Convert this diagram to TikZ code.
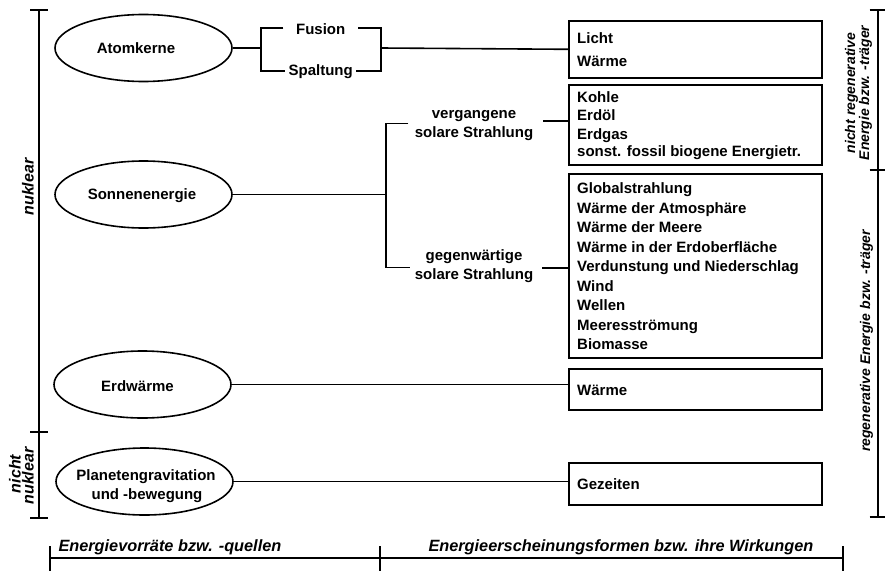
\documentclass[tikz,border=0pt]{standalone}
\usepackage{fontspec}
\setmainfont{Liberation Sans}
\usetikzlibrary{shapes.geometric}
\begin{document}
\begin{tikzpicture}[x=1pt,y=-1pt,
  ln/.style={line width=1.6pt},
  src/.style={draw, ellipse, line width=1.6pt, minimum width=177pt, minimum height=67pt, inner sep=0pt},
  item/.style={draw, line width=1.6pt, anchor=north west, minimum width=253pt, inner sep=0pt},
  txt/.style={inner sep=0pt, font=\bfseries\fontsize{15}{19}\selectfont},
  srclabel/.style={txt, anchor=base},
  entry/.style={txt, anchor=base west},
  axis/.style={inner sep=0pt, anchor=base, font=\bfseries\itshape\fontsize{16}{16}\selectfont},
  side/.style={axis, rotate=90},
  sidesmall/.style={side, font=\bfseries\itshape\fontsize{14}{14}\selectfont},
]
\useasboundingbox (0,0) rectangle (885,570);

% energy sources
\node[src] (atom) at (143.5,48) {};
\node[srclabel] (atomt) at (136,53.3) {Atomkerne};
\node[src] (sonne) at (143.5,194.5) {};
\node[srclabel] (sonnet) at (142,199.5) {Sonnenenergie};
\node[src] (erdw) at (142.5,384.5) {};
\node[srclabel] (erdwt) at (137.5,391.2) {Erdwärme};
\node[src] (planet) at (144.5,481.5) {};
\node[srclabel] (plan1) at (146,480.7) {Planetengravitation};
\node[srclabel] (plan2) at (147,499.3) {und -bewegung};

% energy forms
\node[item, minimum height=57pt] (licht) at (568,20) {};
\node[entry] (l1) at (577,43.3) {Licht};
\node[entry] (l2) at (577,66) {Wärme};

\node[item, minimum height=80pt] (kohle) at (568,84) {};
\node[entry] (k1) at (577,102.3) {Kohle};
\node[entry] (k2) at (577,120.7) {Erdöl};
\node[entry] (k3) at (577,139) {Erdgas};
\node[entry] (k4) at (577,156) {sonst. fossil biogene Energietr.};

\node[item, minimum height=184pt] (global) at (568,173) {};
\foreach \t [count=\i] in {Globalstrahlung, Wärme der Atmosphäre, Wärme der Meere,
  Wärme in der Erdoberfläche, Verdunstung und Niederschlag, Wind, Wellen,
  Meeresströmung, Biomasse}
  \node[entry] (g\i) at (577,{174+19.5*\i}) {\t};

\node[item, minimum height=41pt] (wbox) at (568,368) {};
\node[entry] (w1) at (577,395) {Wärme};

\node[item, minimum height=42pt] (gez) at (568,462) {};
\node[entry] (z1) at (577,489.3) {Gezeiten};

% nuclear branch
\node[srclabel] (fusion) at (320.7,34) {Fusion};
\node[srclabel] (spalt) at (320.7,75.5) {Spaltung};
\coordinate (bl) at (261,48);
\coordinate (br) at (381,48);
\draw[ln] (atom.east) -- (bl);
\draw[ln] (283.3,27.7) -- (261,27.7) -- (261,71) -- (285,71);
\draw[ln] (358.3,27.7) -- (381,27.7) -- (381,71) -- (356,71);
\draw[ln] (br) -- (licht.west);

% solar branch (base anchor = baseline of the last line)
\coordinate (sj) at (385.7,194.5);
\draw[ln] (sonne.east) -- (sj);
\draw[ln] (408.3,123.3) -- (385.7,123.3) -- (385.7,267.3) -- (410,267.3);
\node[txt, align=center, anchor=base] (verg) at (474,137) {vergangene\\solare Strahlung};
\node[txt, align=center, anchor=base] (gegen) at (474,279.5) {gegenwärtige\\solare Strahlung};
\coordinate (vgo) at (543,121);
\coordinate (ggo) at (542,268);
\draw[ln] (vgo) -- (vgo -| kohle.west);
\draw[ln] (ggo) -- (ggo -| global.west);

% geothermal and tidal
\draw[ln] (erdw.east) -- (erdw.east -| wbox.west);
\draw[ln] (planet.east) -- (planet.east -| gez.west);

% left scale
\draw[ln] (39,10) -- (39,518);
\foreach \y in {10,432,518} \draw[ln] (30,\y) -- (48,\y);
\node[side] (nuk) at (33.5,187) {nuklear};
\node[side] (nn1) at (20.5,474) {nicht};
\node[side] (nn2) at (33.5,476) {nuklear};

% right scale
\draw[ln] (878,10) -- (878,517);
\foreach \y in {10,170,517} \draw[ln] (869.5,\y) -- (886.5,\y);
\node[sidesmall] (nr1) at (855,93) {nicht regenerative};
\node[sidesmall] (nr2) at (869,93) {Energie bzw. -träger};
\node[sidesmall] (rg) at (870,341) {regenerative Energie bzw. -träger};

% bottom scale
\draw[ln] (50,558) -- (843,558);
\foreach \x in {50,380,843} \draw[ln] (\x,546) -- (\x,571);
\node[axis, anchor=base west, font=\bfseries\itshape\fontsize{16.3}{16.3}\selectfont] (ax1) at (58.3,551) {Energievorräte bzw. -quellen};
\node[axis, anchor=base west, font=\bfseries\itshape\fontsize{16.3}{16.3}\selectfont] (ax2) at (428.3,551) {Energieerscheinungsformen bzw. ihre Wirkungen};
\end{tikzpicture}
\end{document}
